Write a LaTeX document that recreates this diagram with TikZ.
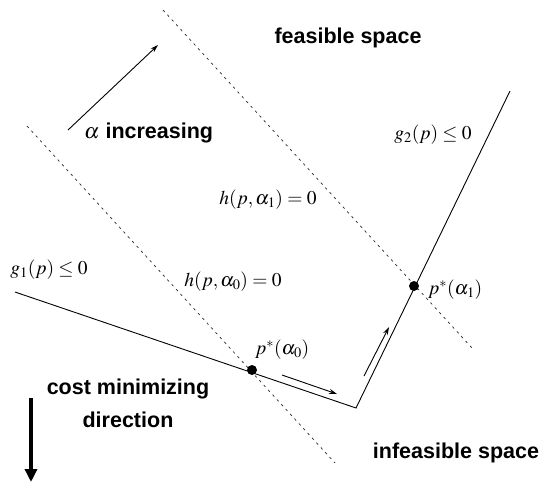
\documentclass[tikz,border=0pt]{standalone}
\usepackage{mathptmx}
\usepackage{fontspec}
\setsansfont{Liberation Sans}
\usetikzlibrary{arrows.meta}
\begin{document}
\begin{tikzpicture}[x=1pt,y=-1pt,
  dashline/.style={dash pattern=on 2.5pt off 4pt,line width=0.7pt,black!85},
  solidline/.style={line width=0.9pt,black},
  dotmark/.style={circle,fill=black,inner sep=0pt,minimum size=10pt},
  lbl/.style={font=\sffamily\bfseries\fontsize{21.5}{30}\selectfont,inner sep=0pt},
  mlbl/.style={font=\fontsize{19.5}{22}\selectfont,inner sep=0pt},
  smallarrow/.style={line width=0.9pt,-{Stealth[length=8pt,width=5pt]}},
  bigarrow/.style={line width=3.5pt,-{Triangle[length=13pt,width=12pt]}}]
\useasboundingbox (0,0) rectangle (545,483);
% dashed level lines
\coordinate (d1a) at (163,10);
\coordinate (d1b) at (472,348);
\coordinate (d0a) at (27,126);
\coordinate (d0b) at (335,463);
\draw[dashline] (d1a) -- (d1b);
\draw[dashline] (d0a) -- (d0b);
% constraints
\coordinate (g1s) at (15,292);
\coordinate (corner) at (356,408);
\coordinate (g2e) at (510,91);
\draw[solidline] (g1s) -- (corner) -- (g2e);
% optimum points
\node[dotmark] (p0) at (252,370) {};
\node[dotmark] (p1) at (414,286) {};
% arrows
\coordinate (ai1) at (68,130);
\coordinate (ai2) at (158,45);
\draw[smallarrow] (ai1) -- (ai2);
\coordinate (m1a) at (282,375);
\coordinate (m1b) at (337,394);
\draw[smallarrow] (m1a) -- (m1b);
\coordinate (m2a) at (364,376);
\coordinate (m2b) at (389,327);
\draw[smallarrow] (m2a) -- (m2b);
\coordinate (ca) at (31,398);
\coordinate (cb) at (31,482);
\draw[bigarrow] (ca) -- (cb);
% labels
\node[lbl] (feas) at (348,38) {feasible space};
\node[lbl,anchor=west] (ainc) at (84,133) {$\alpha$ increasing};
\node[lbl] (infeas) at (456,453) {infeasible space};
\node[lbl,align=center] (cost) at (128,403) {cost minimizing\\[3pt]direction};
\node[mlbl] (g2l) at (433,135) {$g_2(p)\le 0$};
\node[mlbl] (g1l) at (49,270) {$g_1(p)\le 0$};
\node[mlbl] (h1l) at (268,200) {$h(p,\alpha_1)=0$};
\node[mlbl] (h0l) at (233,282) {$h(p,\alpha_0)=0$};
\node[mlbl,anchor=west] (p1l) at (428,290) {$p^{*}(\alpha_1)$};
\node[mlbl,anchor=west] (p0l) at (255,350) {$p^{*}(\alpha_0)$};
\end{tikzpicture}
\end{document}
